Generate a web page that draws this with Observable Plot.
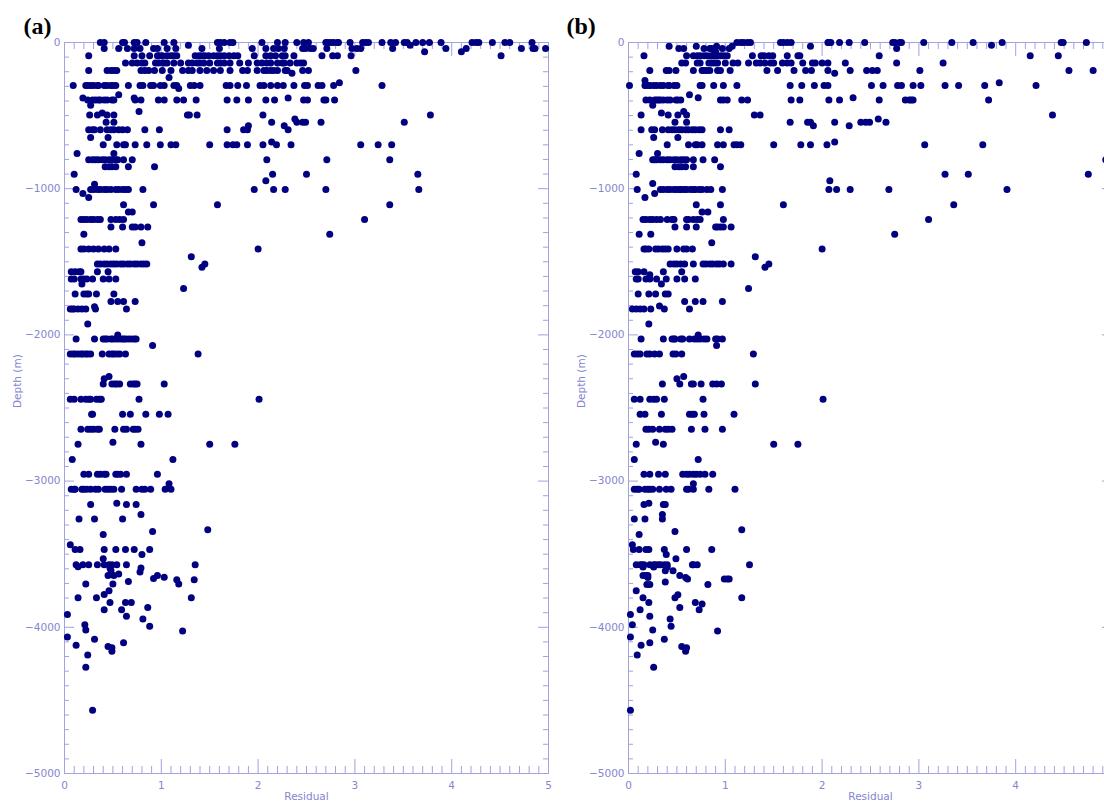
<!DOCTYPE html>
<html><head><meta charset="utf-8">
<script src="https://cdn.jsdelivr.net/npm/d3@7"></script>
<script src="https://cdn.jsdelivr.net/npm/@observablehq/plot@0.6"></script>
<style>
html,body{margin:0;padding:0;background:#fff;overflow:hidden}
#fig{position:relative;width:1104px;height:802px;overflow:hidden;background:#fff}
.panel{position:absolute;top:0;width:560px;height:802px}
.panel svg{max-width:none !important;width:560px !important;height:802px !important}
</style></head><body><div id="fig"></div>
<script>
const xTicks = [0, 1, 2, 3, 4, 5];
const xTicksVisibleB = [0, 1, 2, 3, 4]; // panel (b) is cropped at its right edge
const yTicks = [0, -1000, -2000, -3000, -4000, -5000];
const panelTags = ["(a)", "(b)"];
const xLabel = "Residual";
const yLabel = "Depth (m)";

// Panel (a): depth levels and residuals found at each level
const depthsA = [0,-18,-41,-64,-91,-141,-191,-211,-239,-276,-294,-315,-358,-380,-394,-430,-472,-483,-496,-524,-546,-570,-597,-650,-680,-699,-760,-802,-850,-902,-945,-969,-1005,-1032,-1060,-1109,-1160,-1210,-1262,-1312,-1370,-1412,-1465,-1515,-1538,-1568,-1618,-1652,-1682,-1720,-1772,-1808,-1823,-1925,-2000,-2028,-2073,-2130,-2285,-2300,-2335,-2440,-2543,-2645,-2734,-2748,-2852,-2953,-3018,-3055,-3151,-3160,-3228,-3260,-3333,-3345,-3365,-3436,-3468,-3502,-3531,-3572,-3585,-3595,-3612,-3622,-3635,-3645,-3658,-3667,-3675,-3686,-3704,-3750,-3776,-3798,-3830,-3864,-3880,-3912,-3924,-3944,-3982,-3992,-4019,-4026,-4067,-4082,-4106,-4122,-4131,-4140,-4163,-4190,-4274,-4568];
const residualsA = [
[0.37,0.41,0.60,0.62,0.72,0.75,0.84,1.03,1.13,1.58,1.61,1.65,1.71,1.74,2.04,2.20,2.28,2.40,2.47,2.52,2.70,2.72,2.75,2.78,2.82,2.83,2.95,3.08,3.11,3.14,3.28,3.37,3.42,3.51,3.54,3.63,3.70,3.77,3.89,4.21,4.25,4.28,4.42,4.55,4.60,4.83], // 0
[1.28,3.57], // -18
[0.41,0.56,0.65,0.72,0.78,0.92,0.96,1.06,1.15,1.42,1.60,1.94,2.08,2.16,2.21,2.27,2.46,2.49,2.54,2.57,2.71,2.97,3.02,3.06,3.39,3.94,4.15,4.72,4.84,4.86,4.97], // -41
[3.72,4.10], // -64
[0.25,0.72,0.80,0.88,0.96,0.98,1.01,1.06,1.10,1.13,1.16,1.35,1.39,1.42,1.45,1.49,1.54,1.58,1.61,1.65,1.70,1.75,1.79,1.96,2.08,2.13,2.18,2.25,2.28,2.37,2.66,2.77,2.82,2.96,4.51], // -91
[0.63,0.70,0.75,0.80,0.83,0.94,0.97,1.01,1.03,1.06,1.13,1.20,1.28,1.32,1.37,1.40,1.44,1.50,1.58,1.61,1.65,1.71,1.81,1.90,1.99,2.04,2.09,2.13,2.20,2.25,2.27,2.33,2.40,2.44,2.47], // -141
[0.25,0.44,0.48,0.51,0.54,0.79,0.83,0.87,0.93,1.01,1.10,1.22,1.28,1.32,1.40,1.47,1.54,1.61,1.71,1.84,1.89,1.99,2.06,2.09,2.13,2.16,2.20,2.28,2.30,2.46,2.52,3.01], // -191
[2.35], // -211
[1.08], // -239
[2.84], // -276
[0.09,0.22,0.24,0.27,0.30,0.34,0.35,0.41,0.44,0.48,0.50,0.53,0.66,0.78,0.81,0.89,0.92,0.99,1.03,1.13,1.16,1.30,1.34,1.40,1.67,1.71,1.79,1.88,2.02,2.06,2.13,2.20,2.26,2.37,2.48,2.51,2.62,2.66,2.78,3.28], // -294
[1.18], // -315
[0.56], // -358
[0.19,0.72,2.31], // -380
[0.24,0.29,0.32,0.35,0.37,0.41,0.44,0.49,0.51,0.73,0.79,0.97,1.03,1.16,1.23,1.36,1.68,1.78,1.90,2.08,2.17,2.47,2.51,2.68,2.70,2.79], // -394
[0.27], // -430
[0.77], // -472
[0.39], // -483
[0.26,0.34,0.44,0.51,1.27,1.29,1.37,2.05,3.78], // -496
[2.38], // -524
[0.43,0.51,2.14,2.40,2.46,2.49,2.65,3.51], // -546
[1.90,2.27], // -570
[0.25,0.29,0.31,0.37,0.44,0.48,0.51,0.56,0.60,0.65,0.83,0.98,1.68,1.85,1.89,2.31], // -597
[0.27,0.45], // -650
[2.14], // -680
[0.40,0.54,0.61,0.63,0.73,0.85,0.99,1.10,1.15,1.50,1.68,1.74,1.78,1.89,2.05,2.19,2.34,3.06,3.24,3.38], // -699
[0.13,0.51], // -760
[0.25,0.29,0.32,0.35,0.39,0.42,0.46,0.49,0.53,0.55,0.61,0.70,2.09,2.71,3.36], // -802
[0.42,0.46,0.49,0.53,0.66,0.93], // -850
[0.10,2.15,2.50,3.65], // -902
[2.08], // -945
[0.31], // -969
[0.12,0.27,0.30,0.34,0.37,0.41,0.44,0.48,0.53,0.56,0.60,0.63,0.66,0.81,1.96,2.16,2.28,2.70,3.66], // -1005
[0.19], // -1032
[0.25], // -1060
[0.61,0.92,1.58,3.36], // -1109
[0.66,0.70], // -1160
[0.17,0.20,0.23,0.27,0.30,0.34,0.37,0.48,0.53,0.57,0.61,3.10], // -1210
[0.48,0.60,0.70,0.73,0.79,0.86], // -1262
[0.20,2.74], // -1312
[0.80], // -1370
[0.17,0.20,0.25,0.30,0.35,0.41,0.46,0.53,2.00], // -1412
[1.31], // -1465
[0.34,0.37,0.41,0.44,0.48,0.51,0.54,0.58,0.61,0.65,0.68,0.72,0.75,0.79,0.82,0.85,1.45], // -1515
[1.42], // -1538
[0.07,0.11,0.15,0.17,0.34,0.45], // -1568
[0.07,0.10,0.17,0.20,0.23,0.29,0.40,0.46,0.53], // -1618
[0.18], // -1652
[1.23], // -1682
[0.11,0.20,0.23,0.25,0.33,0.51], // -1720
[0.48,0.55,0.61,0.73], // -1772
[0.31], // -1808
[0.06,0.08,0.10,0.14,0.18,0.22,0.32,0.64], // -1823
[0.24], // -1925
[0.55], // -2000
[0.12,0.31,0.40,0.42,0.44,0.48,0.50,0.53,0.56,0.59,0.61,0.63,0.66,0.69,0.72,0.74], // -2028
[0.91], // -2073
[0.06,0.09,0.11,0.14,0.17,0.19,0.22,0.24,0.27,0.39,0.46,0.49,0.51,0.54,0.57,0.63,1.38], // -2130
[0.46], // -2285
[0.41], // -2300
[0.40,0.49,0.52,0.54,0.57,0.68,0.71,0.73,0.75,1.03], // -2335
[0.06,0.10,0.17,0.22,0.25,0.27,0.33,0.36,0.38,0.77,2.01], // -2440
[0.28,0.29,0.60,0.68,0.84,0.98,1.07], // -2543
[0.17,0.24,0.27,0.30,0.34,0.36,0.52,0.61,0.64,0.71,0.73,0.76], // -2645
[0.50], // -2734
[0.14,0.79,1.50,1.76], // -2748
[0.08,1.12], // -2852
[0.20,0.25,0.34,0.37,0.41,0.43,0.53,0.55,0.58,0.64,0.96], // -2953
[1.08], // -3018
[0.07,0.10,0.11,0.18,0.20,0.23,0.27,0.32,0.35,0.42,0.45,0.48,0.51,0.59,0.74,0.80,0.83,0.89,1.04,1.10], // -3055
[0.54], // -3151
[0.27,0.64,0.74], // -3160
[0.79], // -3228
[0.15,0.31,0.60], // -3260
[1.48], // -3333
[0.91], // -3345
[0.40], // -3365
[0.06], // -3436
[0.11,0.16,0.41,0.53,0.63,0.72,0.88], // -3468
[0.80], // -3502
[0.40], // -3531
[0.12,0.19,0.25,0.34,0.41,0.46,0.49,0.54,0.64,1.35], // -3572
[0.14], // -3585
[0.47,0.79], // -3595
[0.48], // -3612
[0.78], // -3622
[0.56], // -3635
[0.45,0.51,0.96], // -3645
[1.03], // -3658
[0.92], // -3667
[1.16,1.34], // -3675
[0.66], // -3686
[0.22,0.50,1.18], // -3704
[0.46], // -3750
[0.41], // -3776
[0.14,0.33,1.31], // -3798
[0.47,0.63,0.69], // -3830
[0.86], // -3864
[0.41,0.59], // -3880
[0.03], // -3912
[0.64], // -3924
[0.81], // -3944
[0.21], // -3982
[0.88], // -3992
[0.22], // -4019
[1.22], // -4026
[0.03], // -4067
[0.31], // -4082
[0.61], // -4106
[0.12], // -4122
[0.45], // -4131
[0.49], // -4140
[0.49], // -4163
[0.24], // -4190
[0.22], // -4274
[0.29]  // -4568
];

// Panel (b)
const depthsB = [0,-18,-25,-41,-64,-91,-141,-191,-211,-260,-276,-294,-358,-378,-394,-430,-472,-483,-496,-524,-546,-570,-597,-650,-680,-699,-760,-802,-850,-902,-945,-965,-1005,-1032,-1060,-1109,-1160,-1210,-1262,-1312,-1370,-1412,-1465,-1515,-1538,-1568,-1588,-1618,-1652,-1682,-1720,-1772,-1803,-1823,-1925,-2000,-2028,-2073,-2130,-2285,-2300,-2335,-2440,-2543,-2645,-2734,-2748,-2852,-2953,-3018,-3055,-3151,-3160,-3228,-3260,-3333,-3345,-3365,-3436,-3468,-3502,-3531,-3572,-3587,-3613,-3645,-3660,-3670,-3690,-3708,-3750,-3777,-3798,-3830,-3840,-3864,-3880,-3912,-3924,-3944,-3982,-3992,-4019,-4026,-4067,-4082,-4106,-4122,-4131,-4140,-4163,-4190,-4274,-4568];
const residualsB = [
[1.12,1.16,1.19,1.23,1.26,1.57,1.60,1.64,1.68,2.06,2.07,2.09,2.18,2.28,2.44,2.73,2.75,2.80,2.82,3.05,3.34,3.56,3.86,4.47,4.49,4.73], // 0
[3.75], // -18
[0.42,0.70,0.91,1.07,1.88], // -25
[0.52,0.57,0.78,0.84,0.86,0.97,1.04,2.77], // -41
[0.89,0.90], // -64
[0.16,0.60,0.67,0.71,0.74,0.78,0.81,0.85,0.88,0.91,0.95,0.98,1.02,1.28,1.37,1.40,1.45,1.49,1.64,1.75,1.77,2.59,4.15,4.44], // -91
[0.55,0.59,0.71,0.74,0.83,0.86,0.89,0.92,1.00,1.08,1.13,1.24,1.32,1.36,1.41,1.47,1.50,1.59,1.64,1.68,1.80,1.90,1.93,2.00,2.06,2.24,2.77,3.25], // -141
[0.22,0.39,0.42,0.49,0.67,0.76,0.78,0.81,0.84,0.92,0.95,1.05,1.43,1.54,1.71,1.83,1.89,2.06,2.29,2.46,2.52,2.57,3.01,4.55,4.80], // -191
[2.13], // -211
[0.17], // -260
[3.83], // -276
[0.01,0.17,0.18,0.21,0.22,0.26,0.29,0.33,0.36,0.41,0.42,0.47,0.50,0.74,0.76,0.88,0.98,1.12,1.67,1.79,1.92,2.02,2.06,2.51,2.63,2.78,2.82,2.94,3.02,3.27,3.41,3.68,4.21], // -294
[0.63], // -358
[0.72,2.32], // -378
[0.18,0.22,0.27,0.29,0.31,0.33,0.36,0.40,0.43,0.49,0.51,0.54,0.95,0.98,1.02,1.17,1.23,1.68,1.77,2.07,2.18,2.59,2.86,2.90,2.92,2.94,3.72], // -394
[0.25], // -430
[0.57], // -472
[0.34], // -483
[0.13,0.41,0.51,0.60,1.30,1.36,4.38], // -496
[2.58], // -524
[0.48,0.60,1.67,1.85,1.88,2.13,2.40,2.45,2.49,2.66], // -546
[1.91,2.28], // -570
[0.13,0.24,0.27,0.35,0.41,0.45,0.48,0.52,0.55,0.59,0.62,0.66,0.69,0.73,0.76,0.95,1.04], // -597
[0.26,0.51], // -650
[2.13], // -680
[0.40,0.62,0.69,0.71,0.76,0.92,0.98,1.09,1.12,1.16,1.50,1.78,1.88,2.05,3.06,3.66], // -699
[0.11,0.30], // -760
[0.25,0.27,0.29,0.33,0.36,0.40,0.43,0.47,0.50,0.54,0.57,0.60,0.67,0.77,0.89,4.93], // -802
[0.48,0.52,0.55,0.59,0.67,0.95], // -850
[0.08,3.27,3.51,4.75], // -902
[2.08], // -945
[0.25], // -965
[0.09,0.33,0.36,0.40,0.43,0.47,0.50,0.53,0.55,0.58,0.60,0.64,0.67,0.69,0.73,0.76,0.81,0.85,0.97,2.07,2.15,2.29,2.69,3.91], // -1005
[0.27], // -1032
[0.17], // -1060
[0.70,0.95,1.60,3.36], // -1109
[0.76,0.82], // -1160
[0.15,0.18,0.22,0.25,0.29,0.33,0.40,0.45,0.47,0.60,0.62,0.67,0.71,0.74,0.98,3.10], // -1210
[0.48,0.60,0.70,0.90,0.92,0.95,0.98,1.06], // -1262
[0.11,0.23,2.75], // -1312
[0.86], // -1370
[0.16,0.18,0.21,0.28,0.31,0.35,0.38,0.41,0.50,0.57,0.60,0.66,2.00], // -1412
[1.31], // -1465
[0.43,0.47,0.50,0.54,0.58,0.67,0.77,0.80,0.84,0.87,0.91,0.94,0.98,1.06,1.45], // -1515
[1.41], // -1538
[0.07,0.10,0.16,0.36,0.55], // -1568
[0.22], // -1588
[0.08,0.10,0.18,0.22,0.29,0.39,0.50,0.58,0.69], // -1618
[0.34], // -1652
[1.24], // -1682
[0.10,0.21,0.28,0.38,0.41], // -1720
[0.58,0.69,0.77,0.97], // -1772
[0.32], // -1803
[0.04,0.08,0.12,0.16,0.23,0.37,0.63], // -1823
[0.21], // -1925
[0.72], // -2000
[0.13,0.36,0.45,0.47,0.48,0.54,0.56,0.63,0.68,0.71,0.74,0.78,0.81,0.90,0.92,0.97], // -2028
[0.91], // -2073
[0.06,0.09,0.12,0.19,0.22,0.27,0.32,0.46,0.49,0.55,1.29], // -2130
[0.57], // -2285
[0.50], // -2300
[0.35,0.53,0.65,0.67,0.75,0.87,0.91,0.96,1.31], // -2335
[0.06,0.12,0.22,0.26,0.29,0.37,0.77,2.01], // -2440
[0.12,0.17,0.34,0.63,0.66,0.68,0.78,1.09], // -2543
[0.18,0.21,0.25,0.32,0.38,0.41,0.45,0.65,0.79,0.97], // -2645
[0.28], // -2734
[0.08,0.36,1.50,1.75], // -2748
[0.06,0.72], // -2852
[0.16,0.22,0.31,0.38,0.56,0.60,0.63,0.67,0.70,0.74,0.79,0.87], // -2953
[0.67], // -3018
[0.06,0.09,0.11,0.17,0.20,0.22,0.25,0.32,0.39,0.44,0.60,0.62,0.67,0.83,1.10], // -3055
[0.21], // -3151
[0.16,0.36,0.38], // -3160
[0.35], // -3228
[0.06,0.17,0.35], // -3260
[1.17], // -3333
[0.48], // -3345
[0.11], // -3365
[0.04], // -3436
[0.05,0.11,0.18,0.21,0.37,0.60,0.86], // -3468
[0.39], // -3502
[0.49], // -3531
[0.08,0.12,0.14,0.16,0.22,0.26,0.28,0.31,0.33,0.37,0.40,0.66,0.67,0.71,1.25], // -3572
[0.15,0.26,0.40], // -3587
[0.38,0.46], // -3613
[0.15,0.18,0.20,0.53], // -3645
[0.20,0.59], // -3660
[0.61,0.99,1.02,1.04], // -3670
[0.38], // -3690
[0.19,0.22,0.82], // -3708
[0.08], // -3750
[0.51], // -3777
[0.15,0.48,1.17], // -3798
[0.21,0.69], // -3830
[0.76], // -3840
[0.53], // -3864
[0.12,0.73], // -3880
[0.02], // -3912
[0.22], // -3924
[0.43], // -3944
[0.04], // -3982
[0.44], // -3992
[0.25], // -4019
[0.92], // -4026
[0.02], // -4067
[0.37], // -4082
[0.22], // -4106
[0.13], // -4122
[0.55], // -4131
[0.60], // -4140
[0.59], // -4163
[0.09], // -4190
[0.26], // -4274
[0.02]  // -4568
];

const axisStroke = "#a2a2e0";
const textColor = "#8585cf";
const dotColor = "#000080";

function makePanel(depths, residuals, tag, tagDx, xLabelTicks) {
  const pts = depths.flatMap((d, i) => (residuals[i] || []).map(r => ({depth: d, residual: r})));
  const W = 560, H = 802, mL = 64, mR = 12, mT = 42, mB = 29;
  const xPerPx = 5 / (W - mL - mR);
  const yPerPx = 5000 / (H - mT - mB);
  const xMinor = d3.range(0, 51).map(i => i / 10);
  const yMinor = d3.range(0, 51).map(i => -i * 100);
  const majX = v => Math.abs(v - Math.round(v)) < 1e-9;
  const majY = v => v % 1000 === 0;
  return Plot.plot({
    width: W, height: H,
    marginLeft: mL, marginRight: mR, marginTop: mT, marginBottom: mB,
    x: {domain: [0, 5], axis: null},
    y: {domain: [-5000, 0], axis: null},
    style: {background: "white", color: textColor, fontFamily: "DejaVu Sans", overflow: "visible", maxWidth: "none"},
    marks: [
      Plot.frame({stroke: axisStroke, strokeWidth: 1}),
      Plot.ruleY(yMinor, {y: d => d, x1: 0, x2: d => (majY(d) ? 10 : 5) * xPerPx, stroke: axisStroke}),
      Plot.ruleY(yMinor, {y: d => d, x1: 5, x2: d => 5 - (majY(d) ? 10 : 5) * xPerPx, stroke: axisStroke}),
      Plot.ruleX(xMinor, {x: d => d, y1: 0, y2: d => -(majX(d) ? 14 : 7) * yPerPx, stroke: axisStroke}),
      Plot.ruleX(xMinor, {x: d => d, y1: -5000, y2: d => -5000 + (majX(d) ? 14 : 7) * yPerPx, stroke: axisStroke}),
      Plot.axisX(xLabelTicks, {anchor: "bottom", tickSize: 0, tickPadding: 8, fontSize: 10.5, fill: textColor, label: null}),
      Plot.axisY(yTicks, {anchor: "left", tickSize: 0, tickPadding: 4, fontSize: 10.5, fill: textColor, label: null,
        tickFormat: d => d === 0 ? "0" : "\u2212" + Math.abs(d)}),
      Plot.text([yLabel], {frameAnchor: "left", dx: -47, rotate: -90, fontSize: 10.5, fill: textColor}),
      Plot.text([xLabel], {frameAnchor: "bottom", dy: 19, lineAnchor: "top", fontSize: 10.5, fill: textColor}),
      Plot.text([tag], {frameAnchor: "top-left", dx: tagDx, dy: -16, textAnchor: "start", lineAnchor: "middle",
        fontSize: 24, fontWeight: "bold", fontFamily: "Liberation Serif", fill: "black"}),
      Plot.dot(pts, {x: "residual", y: "depth", r: 3.5, fill: dotColor, stroke: "none"})
    ]
  });
}

const fig = document.getElementById("fig");
const pa = document.createElement("div"); pa.className = "panel"; pa.style.left = "0px";
pa.appendChild(makePanel(depthsA, residualsA, panelTags[0], -41, xTicks));
const pb = document.createElement("div"); pb.className = "panel"; pb.style.left = "564px";
pb.appendChild(makePanel(depthsB, residualsB, panelTags[1], -62, xTicksVisibleB));
fig.appendChild(pa); fig.appendChild(pb);
</script>
</body></html>
